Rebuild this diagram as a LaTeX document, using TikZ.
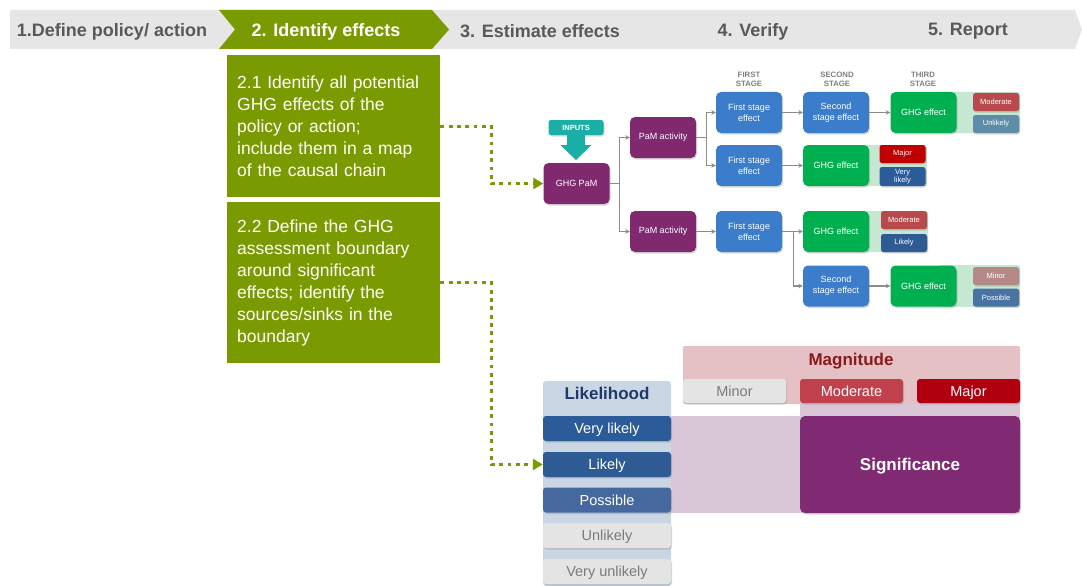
\documentclass[tikz,border=0pt]{standalone}
\usepackage{fontspec}
\setmainfont{Liberation Sans}
\usetikzlibrary{arrows.meta,shadows}

\definecolor{barbg}{HTML}{E6E6E6}
\definecolor{bartext}{HTML}{595959}
\definecolor{olivegreen}{HTML}{7A9A01}
\definecolor{pmpurple}{HTML}{80296F}
\definecolor{fsblue}{HTML}{3B7DCB}
\definecolor{ghggreen}{HTML}{00B050}
\definecolor{inputteal}{HTML}{1BAEA6}
\definecolor{conngray}{HTML}{8C8C8C}
\definecolor{stagegray}{HTML}{7F7F7F}
\definecolor{palegreen}{HTML}{C6E8D2}
\definecolor{tagmoderate}{HTML}{B84A4D}
\definecolor{tagunlikely}{HTML}{5F8CA6}
\definecolor{tagmajor}{HTML}{C00000}
\definecolor{tagvlikely}{HTML}{2B5B98}
\definecolor{taglikely}{HTML}{2F5B94}
\definecolor{tagminor}{HTML}{B58A86}
\definecolor{tagpossible}{HTML}{4A72A3}
\definecolor{magbg}{HTML}{E5C1C5}
\definecolor{lavender}{HTML}{D9C7D7}
\definecolor{likbg}{HTML}{CAD6E4}
\definecolor{lightbox}{HTML}{E4E4E4}
\definecolor{lighttext}{HTML}{7A7A7A}
\definecolor{magmoderate}{HTML}{C0414B}
\definecolor{magmajor}{HTML}{B0000F}
\definecolor{magtitle}{HTML}{8B1A1A}
\definecolor{liktitle}{HTML}{1F3A68}
\definecolor{sigpurple}{HTML}{7F2A72}
\definecolor{vlikelyblue}{HTML}{2B5B98}
\definecolor{likelyblue}{HTML}{2F5B94}
\definecolor{possibleblue}{HTML}{45689F}

\begin{document}
\begin{tikzpicture}[x=1pt,y=-1pt,
  barlbl/.style={font=\bfseries\fontsize{18}{20}\selectfont, text=bartext, inner sep=0pt},
  taskbox/.style={fill=olivegreen, text=white, anchor=north west, text width=193pt,
    inner xsep=10pt, inner ysep=0pt, align=left, font=\fontsize{17.5}{22}\selectfont},
  dotline/.style={draw=olivegreen, line width=3.3pt, dash pattern=on 3.8pt off 4.5pt,
    -{Triangle[length=10pt,width=11pt]}},
  softshadow/.style={drop shadow={opacity=0.3,shadow xshift=1pt,shadow yshift=-1.5pt}},
  flowbox/.style={rounded corners=5pt, minimum width=66pt, minimum height=41pt,
    inner sep=1pt, align=center, text=white, font=\fontsize{9}{11}\selectfont, softshadow},
  purplebox/.style={flowbox, fill=pmpurple},
  bluebox/.style={flowbox, fill=fsblue},
  greenbox/.style={flowbox, fill=ghggreen},
  tagbox/.style={rounded corners=2.5pt, minimum width=46pt, minimum height=18pt,
    inner sep=0.5pt, align=center, text=white, font=\fontsize{7.5}{8.5}\selectfont, softshadow},
  conn/.style={draw=conngray, line width=1.1pt, -{Stealth[length=4.5pt,width=4.5pt]}},
  stagelbl/.style={font=\bfseries\fontsize{7.8}{9.5}\selectfont, text=stagegray, align=center},
  scalebox/.style={rounded corners=3pt, minimum height=24pt, inner sep=0pt,
    text height=10.4pt, text depth=0pt,
    font=\fontsize{14.5}{16}\selectfont, text=white, softshadow},
  liklbl/.style={scalebox, minimum width=128pt},
  maglbl/.style={scalebox, minimum width=103pt},
  title/.style={font=\bfseries\fontsize{17}{19}\selectfont, text height=12.2pt, text depth=0pt}
]
\useasboundingbox (0,0) rectangle (1082,586);

% ---- step bar ----
\fill[barbg] (10,10) -- (1075,10) -- (1082,29.5) -- (1075,49) -- (10,49) -- cycle;
\fill[olivegreen] (219,10) -- (432,10) -- (449,29.5) -- (432,49) -- (219,49) -- (235,29.5) -- cycle;
\node[barlbl] (s1) at (112,31.5) {1.Define policy/ action};
\node[barlbl, text=white] (s2) at (326,31.5) {2. Identify effects};
\node[barlbl] (s3) at (540,31.5) {3. Estimate effects};
\node[barlbl] (s4) at (753,31.5) {4. Verify};
\node[barlbl] (s5) at (968,31.5) {5. Report};

% ---- task boxes ----
\node[taskbox, minimum height=142pt] (b21) at (227,55)
  {2.1 Identify all potential\\GHG effects of the\\policy or action;\\include them in a map\\of the causal chain};
\node[taskbox, minimum height=161pt] (b22) at (227,202)
  {2.2 Define the GHG\\assessment boundary\\around significant\\effects; identify the\\sources/sinks in the\\boundary};

% ---- causal chain ----
\node[purplebox] (ghg) at (576.5,183.5) {GHG PaM};
\node[purplebox] (pam1) at (663,137.5) {PaM activity};
\node[purplebox] (pam2) at (663,231.5) {PaM activity};
\node[bluebox] (fs1) at (749,112.5) {First stage\\effect};
\node[bluebox] (fs2) at (749,165.5) {First stage\\effect};
\node[bluebox] (fs3) at (749,231.5) {First stage\\effect};
\node[bluebox] (ss1) at (836,112.5) {Second\\stage effect};
\node[bluebox] (ss4) at (836,286) {Second\\stage effect};

% pale bands joining GHG effects to their ratings
\fill[palegreen, rounded corners=2pt] (940,92) rectangle (1020,133);
\fill[palegreen, rounded corners=2pt] (852,145) rectangle (927,186);
\fill[palegreen, rounded corners=2pt] (852,211) rectangle (928,252);
\fill[palegreen, rounded corners=2pt] (940,265) rectangle (1020,307);

\node[greenbox] (g2) at (836,165.5) {GHG effect};
\node[greenbox] (g3) at (836,231.5) {GHG effect};
\node[greenbox] (g1) at (923.5,112.5) {GHG effect};
\node[greenbox] (g4) at (923.5,286) {GHG effect};

\node[tagbox, fill=tagmoderate] (t1a) at (996,102) {Moderate};
\node[tagbox, fill=tagunlikely] (t1b) at (996,124) {Unlikely};
\node[tagbox, fill=tagmajor] (t2a) at (902.5,154) {Major};
\node[tagbox, fill=tagvlikely, minimum height=19pt] (t2b) at (902.5,176.5) {Very\\likely};
\node[tagbox, fill=tagmoderate] (t3a) at (904,220) {Moderate};
\node[tagbox, fill=taglikely] (t3b) at (904,243) {Likely};
\node[tagbox, fill=tagminor] (t4a) at (996,276) {Minor};
\node[tagbox, fill=tagpossible] (t4b) at (996,297.5) {Possible};

\node[stagelbl] (st1) at (749,79.5) {FIRST\\STAGE};
\node[stagelbl] (st2) at (837,79.5) {SECOND\\STAGE};
\node[stagelbl] (st3) at (923,79.5) {THIRD\\STAGE};

% inputs block arrow
\node[fill=inputteal, rounded corners=2.5pt, minimum width=55pt, minimum height=15pt, inner sep=0pt,
  text=white, font=\bfseries\fontsize{7.5}{8}\selectfont, softshadow] (inp) at (576,127.5) {INPUTS};
\fill[inputteal] (inp.south) ++(-9,0) -- ++(0,10) -- ++(-6.5,0) -- (inp.south |- 0,160)
  -- ++(15.5,-15) -- ++(-6.5,0) -- ++(0,-10) -- cycle;

% connectors
\draw[conn] (ghg.east) -- ++(10,0) |- (pam1.west);
\draw[conn] (ghg.east) -- ++(10,0) |- (pam2.west);
\draw[conn] (pam1.east) -- ++(10.5,0) |- (fs1.west);
\draw[conn] (pam1.east) -- ++(10.5,0) |- (fs2.west);
\draw[conn] (pam2.east) -- (fs3.west);
\draw[conn] (fs1.east) -- (ss1.west);
\draw[conn] (fs2.east) -- (g2.west);
\draw[conn] (fs3.east) -- ++(11,0) |- (g3.west);
\draw[conn] (fs3.east) -- ++(11,0) |- (ss4.west);
\draw[conn] (ss1.east) -- (g1.west);
\draw[conn] (ss4.east) -- (g4.west);

% ---- significance matrix ----
\fill[lavender] (800,378) rectangle (1020,513);
\fill[lavender] (671,416) rectangle (800,513);
\fill[magbg, rounded corners=2pt] (683,346) rectangle (1020,404);
\fill[likbg, rounded corners=3pt] (543,381) rectangle (671,586);

\node[title, text=magtitle] (mag) at (851,359) {Magnitude};
\node[title, text=liktitle] (lik) at (607,393.5) {Likelihood};

\node[maglbl, fill=lightbox, text=lighttext] (minor) at (734.5,391) {Minor};
\node[maglbl, fill=magmoderate] (moderate) at (851.5,391) {Moderate};
\node[maglbl, fill=magmajor] (major) at (968.5,391) {Major};

\node[liklbl, minimum height=25pt, fill=vlikelyblue] (vlikely) at (607,428.5) {Very likely};
\node[liklbl, minimum height=25pt, fill=likelyblue] (likely) at (607,464.5) {Likely};
\node[liklbl, minimum height=25pt, fill=possibleblue] (possible) at (607,500) {Possible};
\node[liklbl, minimum height=25pt, fill=lightbox, text=lighttext] (unlikely) at (607,535.5) {Unlikely};
\node[liklbl, minimum height=25pt, fill=lightbox, text=lighttext] (vunlikely) at (607,571.5) {Very unlikely};

\node[rounded corners=5pt, fill=sigpurple, minimum width=220pt, minimum height=97pt,
  inner sep=0pt, text=white, title, softshadow] (sig) at (910,464.5) {Significance};

% ---- dotted links from the tasks ----
\draw[dotline] (b21.east) -- ++(51,0) |- (ghg.west);
\draw[dotline] (b22.east) -- ++(51,0) |- (likely.west);
\end{tikzpicture}
\end{document}
